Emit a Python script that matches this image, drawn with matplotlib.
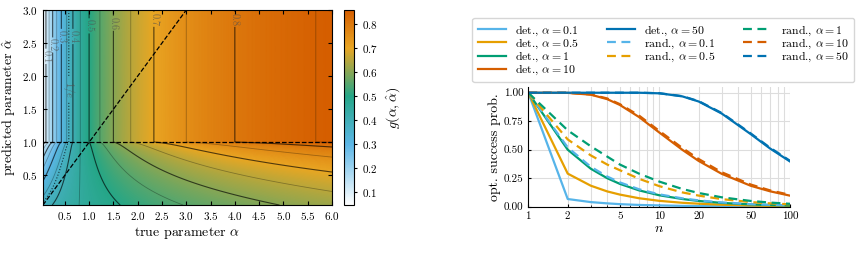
import numpy as np
import matplotlib
matplotlib.use("Agg")
import matplotlib.pyplot as plt
from matplotlib.colors import LinearSegmentedColormap

plt.rcParams['font.family'] = 'serif'
plt.rcParams['font.serif'] = ['cmr10', 'DejaVu Serif']
plt.rcParams['mathtext.fontset'] = 'cm'
plt.rcParams['axes.formatter.use_mathtext'] = True
plt.rcParams['font.size'] = 9

# --- right panel: optimal success probability vs n
n_vals = [1, 2, 3, 4, 5, 7, 10, 15, 20, 30, 50, 70, 100]
det = {
    0.1: [1.0, 0.067, 0.040, 0.029, 0.022, 0.015, 0.011, 0.007, 0.005, 0.0035, 0.002, 0.0015, 0.001],
    0.5: [1.0, 0.29, 0.184, 0.134, 0.106, 0.074, 0.051, 0.034, 0.026, 0.017, 0.010, 0.007, 0.005],
    1:   [1.0, 0.50, 0.333, 0.25, 0.20, 0.143, 0.10, 0.067, 0.05, 0.033, 0.02, 0.014, 0.01],
    10:  [1.0, 0.999, 0.983, 0.944, 0.893, 0.787, 0.651, 0.499, 0.401, 0.288, 0.183, 0.135, 0.096],
    50:  [1.0, 1.0, 1.0, 1.0, 1.0, 1.0, 0.995, 0.968, 0.923, 0.817, 0.636, 0.511, 0.395],
}
rand = {
    0.1: [1.0, 0.52, 0.35, 0.265, 0.213, 0.153, 0.108, 0.073, 0.055, 0.037, 0.022, 0.016, 0.011],
    0.5: [1.0, 0.59, 0.45, 0.37, 0.32, 0.245, 0.180, 0.125, 0.097, 0.066, 0.040, 0.029, 0.020],
    1:   [1.0, 0.67, 0.53, 0.44, 0.37, 0.29, 0.220, 0.155, 0.120, 0.082, 0.050, 0.036, 0.025],
    10:  [1.0, 0.999, 0.985, 0.95, 0.90, 0.80, 0.665, 0.515, 0.418, 0.302, 0.194, 0.143, 0.103],
    50:  [1.0, 1.0, 1.0, 1.0, 1.0, 1.0, 0.996, 0.97, 0.926, 0.822, 0.642, 0.518, 0.401],
}
colors = {0.1: '#56B4E9', 0.5: '#E69F00', 1: '#009E73', 10: '#D55E00', 50: '#0072B2'}

# --- left panel: g(alpha, alpha_hat)
alpha_range = (0.05, 6.0)
alpha_hat_range = (0.05, 3.0)
g0_base, g0_slope, bend = 0.38, 0.12, 0.55   # fitted to the contour shapes below alpha_hat = 1

a = np.linspace(*alpha_range, 600)
ah = np.linspace(*alpha_hat_range, 400)
A, AH = np.meshgrid(a, ah)
upper = A / (1 + A)
g0 = g0_base + g0_slope * np.log1p(A)
G = np.where(AH >= 1, upper, upper - np.clip(1 - AH, 0, 1) ** bend * (upper - g0))

vmin, vmax = a[0] / (1 + a[0]), a[-1] / (1 + a[-1])
nodes = [(vmin, '#ffffff'), (0.3, '#5cb6e6'), (0.5, '#25a687'), (0.7, '#e9a623'), (vmax, '#D55E00')]
cmap = LinearSegmentedColormap.from_list(
    'oi', [((v - vmin) / (vmax - vmin), c) for v, c in nodes])

fig = plt.figure(figsize=(8.59, 2.67), dpi=100)
ax = fig.add_axes([0.050, 0.232, 0.3365, 0.7305])
pc = ax.pcolormesh(A, AH, G, cmap=cmap, vmin=vmin, vmax=vmax, shading='gouraud', rasterized=True)

major = np.round(np.arange(0.1, 0.81, 0.1), 2)
minor = np.round(np.arange(0.15, 0.86, 0.1), 2)
ax.contour(A, AH, G, levels=minor, colors='k', linewidths=0.6, alpha=0.3)

label_pos = {0.1: (0.11, 2.3), 0.2: (0.25, 2.47), 0.3: (0.43, 2.6), 0.4: (0.667, 2.6),
             0.5: (1.0, 2.76), 0.6: (1.5, 2.8), 0.7: (2.333, 2.86), 0.8: (4.0, 2.86)}
for lv in major:
    cs = ax.contour(A, AH, G, levels=[lv], colors='k', linewidths=0.8, alpha=0.65)
    txt = ax.clabel(cs, fmt={lv: f'{lv:.1f}'}, manual=[label_pos[lv]], inline=True,
                    fontsize=7.5, colors='#505050', inline_spacing=1)
    for t in txt:
        t.set_rotation(-90)
cs = ax.contour(A, AH, G, levels=[np.exp(-1)], colors='k', linewidths=0.8,
                linestyles=':', alpha=0.7)
txt = ax.clabel(cs, fmt={np.exp(-1): r'$1/e$'}, manual=[(0.58, 1.8)], inline=True,
                fontsize=7.5, colors='#505050')
for t in txt:
    t.set_rotation(-90)

ax.axhline(1.0, color='k', ls='--', lw=0.9)
ax.plot([alpha_hat_range[0], alpha_hat_range[1]], [alpha_hat_range[0], alpha_hat_range[1]],
        color='k', ls='--', lw=0.9)
ax.set_xlim(alpha_range)
ax.set_ylim(alpha_hat_range)
ax.set_xticks(np.arange(0.5, 6.01, 0.5))
ax.set_yticks(np.arange(0.5, 3.01, 0.5))
ax.tick_params(direction='in', top=True, right=True, labelsize=8, length=3)
ax.set_xlabel(r'true parameter $\alpha$', fontsize=10, labelpad=2)
ax.set_ylabel(r'predicted parameter $\hat{\alpha}$', fontsize=10, labelpad=3)

cax = fig.add_axes([0.4005, 0.232, 0.0116, 0.7305])
cb = fig.colorbar(pc, cax=cax, ticks=np.arange(0.1, 0.81, 0.1))
cb.ax.tick_params(labelsize=8, length=2.5)
cb.set_label(r'$g(\alpha, \hat{\alpha})$', fontsize=10)

# --- right panel
ax2 = fig.add_axes([0.615, 0.226, 0.305, 0.448])
for al in [0.1, 0.5, 1, 10, 50]:
    ax2.plot(n_vals, det[al], color=colors[al], lw=1.6, label=rf'det., $\alpha = {al}$')
for al in [0.1, 0.5, 1, 10, 50]:
    ax2.plot(n_vals, rand[al], color=colors[al], lw=1.6, ls='--', dashes=(4, 2.5),
             label=rf'rand., $\alpha = {al}$')
ax2.set_xscale('log')
ax2.set_xlim(1, 100)
ax2.set_ylim(0, 1.05)
ax2.set_xticks([1, 2, 5, 10, 20, 50, 100])
ax2.set_xticklabels(['1', '2', '5', '10', '20', '50', '100'])
ax2.set_yticks([0, 0.25, 0.5, 0.75, 1.0])
ax2.set_yticklabels(['0.00', '0.25', '0.50', '0.75', '1.00'])
ax2.grid(True, which='both', color='#dddddd', lw=0.8)
ax2.set_axisbelow(True)
ax2.spines['top'].set_visible(False)
ax2.spines['right'].set_visible(False)
ax2.tick_params(which='both', direction='in', labelsize=8, length=2.5)
ax2.tick_params(which='minor', length=1.5)
ax2.set_xlabel(r'$n$', fontsize=10, labelpad=1)
ax2.set_ylabel('opt. success prob.', fontsize=10, labelpad=2)
fig.legend(loc='upper left', bbox_to_anchor=(0.543, 0.955), ncol=3, fontsize=8.5,
           handlelength=2.4, columnspacing=2.3, labelspacing=-0.1, borderpad=0.45,
           handletextpad=0.8, edgecolor='#cccccc', fancybox=True)

fig.savefig('out.png', dpi=100)
